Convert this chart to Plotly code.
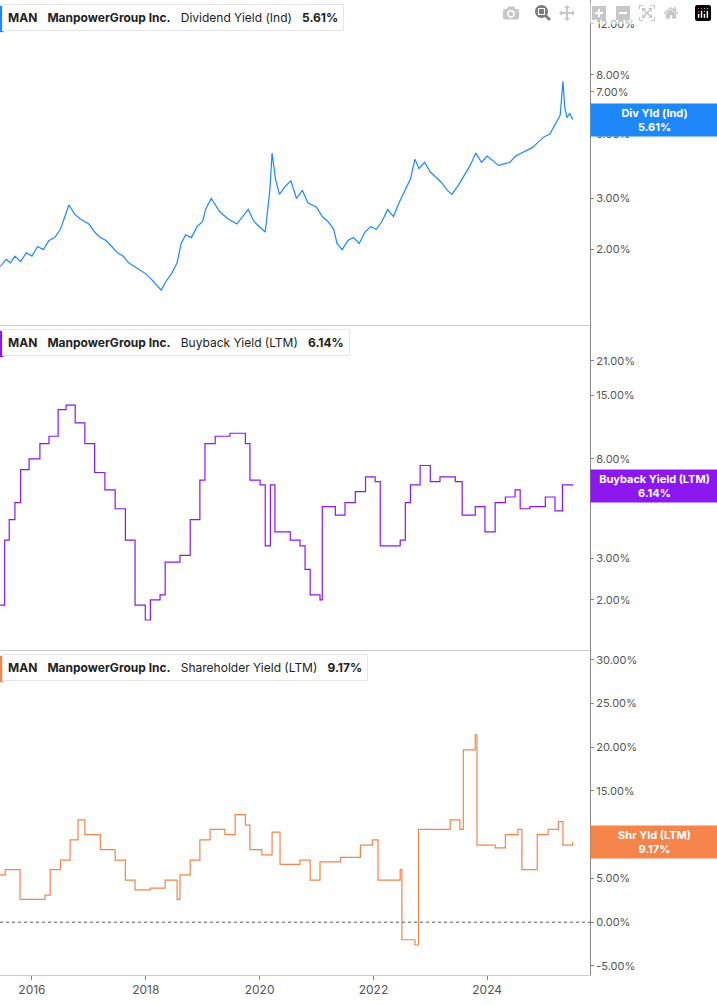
import math
import pandas as pd
import plotly.graph_objects as go

# decimal years / values
div_t = [2015.44, 2015.55, 2015.62, 2015.7, 2015.8, 2015.9, 2016.0, 2016.1, 2016.2, 2016.3, 2016.4, 2016.5,
         2016.58, 2016.65, 2016.75, 2016.85, 2017.0, 2017.1, 2017.2, 2017.3, 2017.4, 2017.5, 2017.6, 2017.7,
         2017.8, 2017.9, 2018.0, 2018.1, 2018.2, 2018.27, 2018.35, 2018.45, 2018.55, 2018.62, 2018.7, 2018.8,
         2018.9, 2019.0, 2019.05, 2019.15, 2019.3, 2019.45, 2019.6, 2019.7, 2019.8, 2019.9, 2020.0, 2020.1,
         2020.18, 2020.22, 2020.28, 2020.35, 2020.45, 2020.55, 2020.65, 2020.75, 2020.85, 2021.0, 2021.1,
         2021.2, 2021.3, 2021.36, 2021.45, 2021.55, 2021.65, 2021.75, 2021.85, 2021.95, 2022.05, 2022.15,
         2022.25, 2022.35, 2022.45, 2022.55, 2022.65, 2022.73, 2022.8, 2022.9, 2023.0, 2023.1, 2023.2,
         2023.3, 2023.38, 2023.5, 2023.6, 2023.7, 2023.8, 2023.9, 2024.0, 2024.1, 2024.2, 2024.3, 2024.4,
         2024.5, 2024.6, 2024.7, 2024.8, 2024.9, 2025.0, 2025.1, 2025.2, 2025.28, 2025.33, 2025.36, 2025.4,
         2025.45, 2025.5]
div_v = [1.75, 1.85, 1.8, 1.9, 1.82, 1.95, 1.9, 2.05, 2.0, 2.15, 2.2, 2.35,
         2.6, 2.85, 2.65, 2.55, 2.45, 2.3, 2.2, 2.15, 2.05, 1.95, 1.9, 1.8,
         1.75, 1.7, 1.65, 1.58, 1.5, 1.45, 1.55, 1.65, 1.8, 2.1, 2.25, 2.2,
         2.4, 2.5, 2.75, 3.0, 2.7, 2.55, 2.45, 2.6, 2.75, 2.5, 2.4, 2.3,
         3.2, 4.3, 3.5, 3.1, 3.3, 3.45, 3.0, 3.2, 2.9, 2.8, 2.6, 2.5,
         2.35, 2.1, 2.0, 2.15, 2.2, 2.1, 2.3, 2.4, 2.35, 2.5, 2.75, 2.6,
         2.9, 3.2, 3.5, 4.1, 3.8, 4.0, 3.7, 3.55, 3.4, 3.2, 3.1, 3.35,
         3.6, 3.9, 4.3, 4.0, 4.2, 4.05, 3.9, 3.95, 4.0, 4.2, 4.3, 4.4,
         4.5, 4.7, 4.9, 5.0, 5.4, 5.8, 7.6, 6.2, 5.7, 5.9, 5.61]

buy_t = [2015.44, 2015.52, 2015.6, 2015.7, 2015.8, 2015.95, 2016.14, 2016.3, 2016.46, 2016.6, 2016.76,
         2016.93, 2017.1, 2017.28, 2017.46, 2017.64, 2017.81, 2017.99, 2018.08, 2018.25, 2018.34, 2018.6,
         2018.78, 2018.95, 2019.04, 2019.22, 2019.48, 2019.75, 2019.83, 2020.01, 2020.1, 2020.19, 2020.27,
         2020.54, 2020.71, 2020.8, 2020.89, 2021.06, 2021.1, 2021.33, 2021.5, 2021.68, 2021.86, 2022.03,
         2022.12, 2022.3, 2022.47, 2022.56, 2022.65, 2022.82, 2023.0, 2023.17, 2023.44, 2023.56, 2023.79,
         2023.96, 2024.14, 2024.32, 2024.49, 2024.58, 2024.75, 2025.02, 2025.19, 2025.32, 2025.5]
buy_v = [1.9, 3.6, 4.4, 5.2, 7.2, 8.0, 9.3, 10.0, 13.0, 13.6, 11.4,
         9.3, 7.0, 5.9, 4.9, 3.6, 1.9, 1.64, 2.0, 2.1, 2.9, 3.1,
         4.4, 6.5, 9.3, 10.0, 10.3, 9.3, 6.5, 6.2, 3.4, 6.2, 3.9,
         3.6, 3.4, 2.7, 2.1, 2.0, 5.0, 4.6, 5.2, 5.8, 6.7, 6.4,
         3.4, 3.4, 3.6, 5.2, 6.2, 7.5, 6.4, 6.7, 6.4, 4.6, 5.0,
         3.9, 5.2, 5.5, 5.9, 4.9, 5.0, 5.5, 4.8, 6.2, 6.14]

shr_t = [2015.44, 2015.53, 2015.79, 2016.23, 2016.32, 2016.5, 2016.67, 2016.81, 2016.93, 2017.2, 2017.46,
         2017.64, 2017.81, 2018.08, 2018.34, 2018.55, 2018.6, 2018.78, 2018.95, 2019.13, 2019.39, 2019.57,
         2019.75, 2019.83, 2020.04, 2020.22, 2020.36, 2020.71, 2020.89, 2021.06, 2021.42, 2021.77, 2021.98,
         2022.08, 2022.47, 2022.5, 2022.73, 2022.79, 2023.08, 2023.35, 2023.52, 2023.58, 2023.79, 2023.82,
         2024.14, 2024.32, 2024.54, 2024.61, 2024.84, 2024.88, 2025.07, 2025.25, 2025.33, 2025.5]
shr_v = [5.4, 6.0, 2.6, 3.1, 6.0, 7.1, 9.4, 11.7, 10.0, 8.3, 7.1,
         4.8, 3.7, 3.9, 4.8, 2.6, 5.4, 7.1, 9.4, 10.6, 10.0, 12.3,
         11.1, 8.3, 7.7, 10.3, 6.6, 7.1, 4.8, 6.9, 7.4, 8.8, 9.4,
         4.8, 6.0, -2.0, -2.6, 10.6, 10.6, 11.7, 10.6, 19.7, 21.4, 8.8,
         8.5, 10.0, 10.6, 6.0, 6.0, 10.0, 10.6, 11.5, 8.8, 9.17]

year_ticks = [2016, 2018, 2020, 2022, 2024]


def to_dates(ts):
    out = []
    for t in ts:
        y = int(t)
        out.append(pd.Timestamp(y, 1, 1) + pd.Timedelta(days=(t - y) * 365.25))
    return out


BLUE = "#1e88fa"
PURPLE = "#8c17ef"
ORANGE = "#f5854a"

fig = go.Figure()
fig.add_trace(go.Scatter(x=to_dates(div_t), y=div_v, mode="lines", line=dict(color=BLUE, width=1.2),
                         xaxis="x", yaxis="y"))
fig.add_trace(go.Scatter(x=to_dates(buy_t), y=buy_v, mode="lines", line=dict(color=PURPLE, width=1.2, shape="hv"),
                         xaxis="x2", yaxis="y2"))
fig.add_trace(go.Scatter(x=to_dates(shr_t), y=shr_v, mode="lines", line=dict(color=ORANGE, width=1.2, shape="hv"),
                         xaxis="x3", yaxis="y3"))

xr = ["2015-06-10", "2025-10-22"]
tickfont = dict(family="Inter, Roboto, sans-serif", size=11, color="#555")


def yax(domain, rng, vals, typ):
    return dict(domain=domain, range=rng, type=typ, side="right", tickvals=vals,
                ticktext=[f"{v:.2f}%" for v in vals], showgrid=False, zeroline=False,
                ticks="outside", ticklen=3, tickcolor="#888", tickfont=tickfont,
                showline=True, linecolor="#888", linewidth=1, fixedrange=True)


def xax(anchor, show):
    return dict(range=xr, type="date", anchor=anchor, showgrid=False, zeroline=False,
                showticklabels=show, tickvals=[pd.Timestamp(y, 1, 1) for y in year_ticks],
                ticktext=[str(y) for y in year_ticks], ticks="outside" if show else "",
                ticklen=4, tickcolor="#888", tickfont=dict(family="Inter, Roboto, sans-serif", size=12, color="#555"),
                showline=True, linecolor="#ccc", linewidth=1)


fig.update_layout(
    width=717, height=1005, margin=dict(l=0, r=127, t=0, b=30),
    plot_bgcolor="white", paper_bgcolor="white", showlegend=False,
    xaxis=xax("y", False), xaxis2=xax("y2", False), xaxis3=xax("y3", True),
    yaxis=yax([0.6667, 1], [0.0414, 1.161], [2, 3, 5, 7, 8, 12], "log"),
    yaxis2=yax([0.3333, 0.6667], [0.0864, 1.4757], [2, 3, 8, 15, 21], "log"),
    yaxis3=yax([0, 0.3333], [-6.03, 31.1], [-5, 0, 5, 10, 15, 20, 25, 30], "linear"),
)

# dotted zero line
fig.add_shape(type="line", xref="x3 domain", yref="y3", x0=0, x1=1, y0=0, y1=0,
              line=dict(color="#555", width=1, dash="dot"))

titles = [("Dividend Yield (Ind)", "5.61%", BLUE, 1.0, 5.61, "Div Yld (Ind)", "y"),
          ("Buyback Yield (LTM)", "6.14%", PURPLE, 0.6667, 6.14, "Buyback Yield (LTM)", "y2"),
          ("Shareholder Yield (LTM)", "9.17%", ORANGE, 0.3333, 9.17, "Shr Yld (LTM)", "y3")]
for name, val, col, top, last, tag, ya in titles:
    fig.add_annotation(xref="paper", yref="paper", x=0.003, y=top - 0.004, xanchor="left", yanchor="top",
                       text=f"<b>MAN</b>   <b>ManpowerGroup Inc.</b>   {name}   <b>{val}</b>",
                       showarrow=False, bgcolor="white", bordercolor="#e6e6e6", borderwidth=1, borderpad=5,
                       font=dict(family="Inter, Roboto, sans-serif", size=12, color="#222"))
    fig.add_shape(type="rect", xref="paper", yref="paper", x0=0.0, x1=0.006,
                  y0=top - 0.033, y1=top - 0.006, fillcolor=col, line=dict(width=0))
    fig.add_annotation(xref="paper", yref=ya, x=1.0, y=last if ya == "y3" else math.log10(last),
                       xanchor="left", yanchor="middle", text=f"<b>{tag}<br>{val}</b>", showarrow=False,
                       bgcolor=col, width=123, borderpad=2, align="center",
                       font=dict(family="Inter, Roboto, sans-serif", size=11, color="white"))

fig.write_html("out.html",
               post_script="document.body.style.margin='0';document.body.style.overflow='hidden';")
